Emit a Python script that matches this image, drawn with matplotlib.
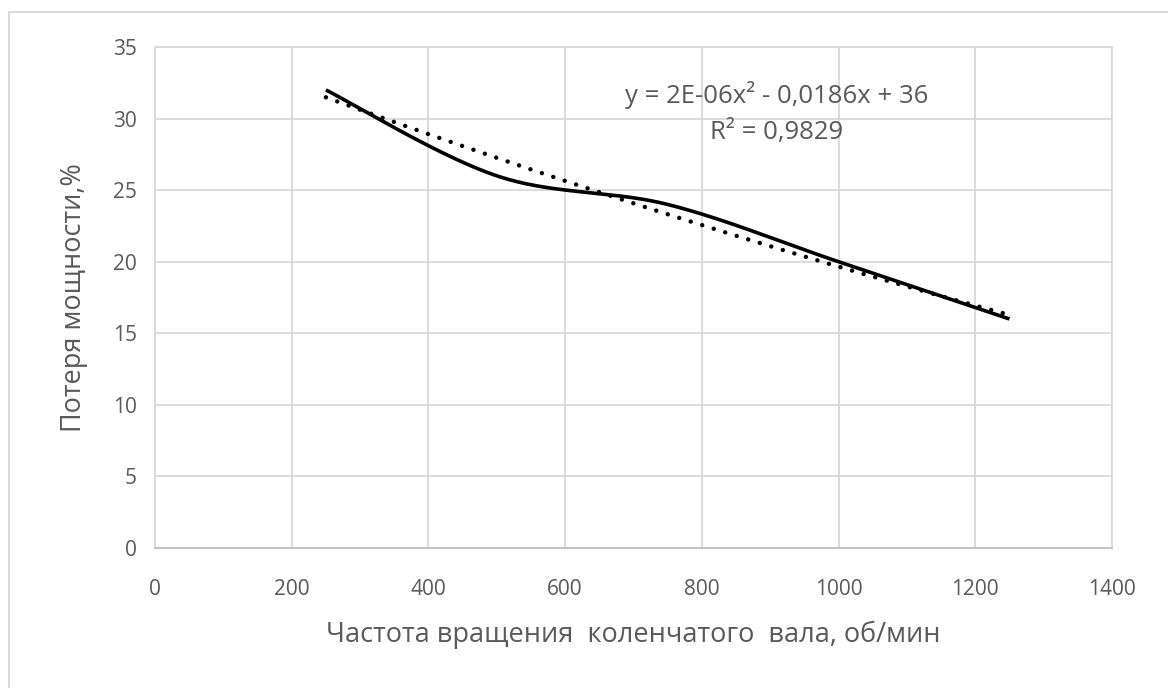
import numpy as np
import matplotlib
matplotlib.use('Agg')
import matplotlib.pyplot as plt
from matplotlib.lines import Line2D

plt.rcParams['font.family'] = ['Open Sans', 'DejaVu Sans']

# measured points: crankshaft speed vs power loss
rpm = [250, 500, 750, 1000, 1250]
loss = [32, 26, 24, 20, 16]

x_ticks = [0, 200, 400, 600, 800, 1000, 1200, 1400]
y_ticks = [0, 5, 10, 15, 20, 25, 30, 35]

TEXT = '#595959'
GRID = '#d9d9d9'


def smooth_curve(xs, ys, n=60):
    # spreadsheet-style smoothed line: cubic bezier with 1/6 neighbour tangents
    xs = np.asarray(xs, float)
    ys = np.asarray(ys, float)
    pts = np.column_stack([xs, ys])
    out = []
    for i in range(len(pts) - 1):
        p0 = pts[i - 1] if i > 0 else pts[i]
        p1 = pts[i]
        p2 = pts[i + 1]
        p3 = pts[i + 2] if i + 2 < len(pts) else pts[i + 1]
        c1 = p1 + (p2 - p0) / 6.0
        c2 = p2 - (p3 - p1) / 6.0
        t = np.linspace(0, 1, n)[:, None]
        seg = ((1 - t) ** 3 * p1 + 3 * (1 - t) ** 2 * t * c1
               + 3 * (1 - t) * t ** 2 * c2 + t ** 3 * p2)
        out.append(seg if i == 0 else seg[1:])
    seg = np.vstack(out)
    return seg[:, 0], seg[:, 1]


fig = plt.figure(figsize=(11.68, 6.88), dpi=100)
ax = fig.add_axes([155 / 1168, 1 - 548 / 688, (1112 - 155) / 1168, (548 - 47) / 688])

sx, sy = smooth_curve(rpm, loss)
ax.plot(sx, sy, color='black', lw=2.6, solid_capstyle='butt', zorder=3)

# second-order polynomial trendline
coef = np.polyfit(rpm, loss, 2)
fit = np.polyval(coef, rpm)
r2 = 1 - np.sum((np.array(loss) - fit) ** 2) / np.sum((np.array(loss) - np.mean(loss)) ** 2)
tx = np.linspace(rpm[0], rpm[-1], 300)
ax.plot(tx, np.polyval(coef, tx), color='black', lw=3.2, linestyle=(0, (0.01, 2.7)),
        dash_capstyle='round', zorder=4)

ax.text(910, 31.65, 'y = 2E-06x² - 0,0186x + 36', ha='center', va='center',
        color=TEXT, fontsize=18.5)
ax.text(910, 29.05, 'R² = %s' % ('%.4f' % r2).replace('.', ','), ha='center', va='center',
        color=TEXT, fontsize=18.5)

ax.set_xlim(0, 1400)
ax.set_ylim(0, 35)
ax.set_xticks(x_ticks)
ax.set_yticks(y_ticks)
ax.grid(True, color=GRID, lw=1.3)
ax.set_axisbelow(True)
for side in ['top', 'right', 'left']:
    ax.spines[side].set_color(GRID)
    ax.spines[side].set_linewidth(1.3)
ax.spines['bottom'].set_color('#bfbfbf')
ax.spines['bottom'].set_linewidth(1.3)
ax.tick_params(length=0, labelsize=15, labelcolor=TEXT)
ax.tick_params(axis='x', pad=22)
ax.tick_params(axis='y', pad=13)

ax.set_xlabel('Частота вращения  коленчатого  вала, об/мин', fontsize=19.5,
              color=TEXT, labelpad=15)
ax.set_ylabel('Потеря мощности,%', fontsize=19.5, color=TEXT, labelpad=18)

# chart frame (top and left edges)
fig.add_artist(Line2D([9 / 1168, 1], [1 - 12 / 688, 1 - 12 / 688], color=GRID, lw=1.5))
fig.add_artist(Line2D([9 / 1168, 9 / 1168], [0, 1 - 12 / 688], color=GRID, lw=1.5))

fig.savefig('out.png', dpi=100, facecolor='white')
